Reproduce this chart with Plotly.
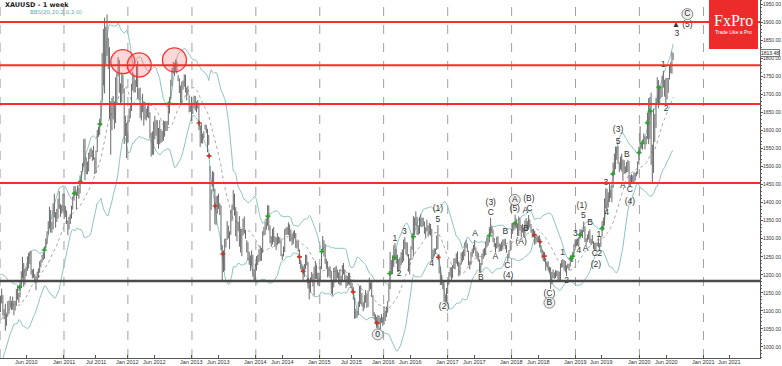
import pandas as pd
import plotly.graph_objects as go

# ---------------- weekly bars: (low, high); first row = first Sunday of the year ----------------
w2009 = [(950,970),(938,962),(932,955),(940,960),(945,998),(990,1012),(995,1024),(990,1019),(983,1011),
         (998,1050),(1040,1070),(1041,1068),(1026,1052),(1040,1096),(1084,1120),(1110,1150),(1137,1195),
         (1167,1227),(1118,1167),(1108,1140),(1075,1113),(1087,1112)]
w2010 = [(1096,1140),(1120,1161),(1086,1143),(1076,1104),(1044,1119),(1058,1092),(1083,1126),(1091,1128),
         (1108,1140),(1101,1127),(1103,1139),(1087,1127),(1100,1127),(1113,1160),(1130,1170),(1122,1149),
         (1137,1180),(1162,1209),(1190,1249),(1166,1232),(1172,1215),(1196,1220),(1210,1250),(1217,1260),
         (1229,1264),(1200,1265),(1189,1214),(1191,1216),(1177,1201),(1157,1195),(1178,1208),(1190,1217),
         (1205,1237),(1220,1241),(1234,1255),(1240,1260),(1244,1278),(1272,1300),(1284,1320),(1311,1348),
         (1328,1388),(1316,1379),(1316,1346),(1325,1398),(1358,1424),(1330,1373),(1346,1382),(1355,1410),
         (1382,1431),(1360,1395),(1369,1392),(1375,1424)]
w2011 = [(1354,1424),(1359,1390),(1340,1378),(1309,1350),(1325,1360),(1340,1368),(1355,1391),(1380,1416),
         (1405,1445),(1420,1445),(1381,1430),(1418,1447),(1410,1440),(1425,1475),(1455,1487),(1485,1509),
         (1500,1575),(1462,1577),(1478,1525),(1478,1513),(1486,1538),(1520,1547),(1526,1552),(1515,1545),
         (1518,1557),(1478,1525),(1482,1544),(1540,1601),(1582,1610),(1587,1632),(1612,1682),(1682,1814),
         (1725,1881),(1702,1912),(1782,1887),(1806,1921),(1770,1856),(1631,1830),(1532,1680),(1600,1690),
         (1630,1695),(1604,1680),(1620,1747),(1675,1760),(1750,1803),(1704,1795),(1671,1730),(1677,1760),
         (1702,1754),(1562,1716),(1584,1640),(1523,1620)]
w2012 = [(1564,1626),(1623,1660),(1634,1672),(1653,1729),(1710,1763),(1704,1755),(1705,1740),(1720,1782),
         (1688,1792),(1683,1716),(1634,1718),(1627,1672),(1650,1701),(1613,1680),(1630,1678),(1627,1660),
         (1636,1668),(1633,1677),(1577,1650),(1527,1593),(1532,1597),(1532,1624),(1575,1640),(1585,1628),
         (1562,1628),(1549,1606),(1561,1628),(1565,1603),(1568,1598),(1571,1627),(1582,1625),(1598,1625),
         (1598,1626),(1615,1676),(1646,1692),(1686,1740),(1723,1773),(1757,1790),(1751,1787),(1764,1796),
         (1757,1790),(1736,1753),(1703,1744),(1675,1724),(1672,1735),(1712,1738),(1720,1755),(1705,1754),
         (1683,1719),(1697,1723),(1650,1697),(1651,1669),(1626,1693)]
w2013 = [(1645,1676),(1661,1696),(1655,1695),(1650,1679),(1660,1684),(1600,1675),(1554,1613),(1564,1619),
         (1563,1590),(1578,1597),(1601,1616),(1592,1615),(1539,1604),(1559,1587),(1321,1501),(1379,1436),
         (1444,1487),(1430,1484),(1339,1438),(1338,1417),(1369,1419),(1382,1424),(1365,1397),(1268,1392),
         (1180,1282),(1207,1267),(1211,1299),(1275,1300),(1296,1348),(1300,1336),(1271,1320),(1310,1380),
         (1348,1394),(1379,1434),(1363,1424),(1306,1387),(1292,1375),(1320,1346),(1277,1362),(1261,1327),
         (1251,1327),(1308,1355),(1313,1361),(1299,1324),(1261,1295),(1240,1290),(1227,1263),(1210,1253),
         (1223,1267),(1194,1255),(1185,1215),(1182,1230)]
w2014 = [(1211,1251),(1226,1255),(1235,1270),(1238,1280),(1238,1274),(1260,1320),(1308,1332),(1310,1345),
         (1324,1355),(1335,1392),(1322,1392),(1287,1336),(1277,1306),(1283,1327),(1290,1332),(1277,1306),
         (1268,1303),(1281,1315),(1286,1305),(1286,1303),(1251,1295),(1240,1257),(1250,1278),(1262,1326),
         (1310,1330),(1310,1332),(1310,1345),(1292,1339),(1292,1325),(1281,1313),(1285,1320),(1300,1323),
         (1273,1315),(1272,1295),(1263,1293),(1229,1270),(1215,1240),(1208,1228),(1183,1223),(1193,1229),
         (1215,1255),(1225,1255),(1161,1235),(1131,1180),(1150,1192),(1180,1207),(1167,1202),(1142,1222),
         (1187,1238),(1187,1226),(1170,1205),(1167,1205)]
w2015 = [(1180,1223),(1215,1268),(1260,1307),(1250,1295),(1230,1285),(1216,1243),(1192,1237),(1195,1220),
         (1190,1223),(1147,1210),(1142,1180),(1164,1219),(1178,1220),(1183,1224),(1190,1214),(1174,1206),
         (1170,1215),(1170,1197),(1182,1226),(1200,1232),(1182,1214),(1162,1198),(1168,1196),(1172,1205),
         (1170,1205),(1162,1188),(1150,1176),(1130,1165),(1077,1136),(1079,1105),(1080,1098),(1087,1125),
         (1110,1168),(1118,1170),(1112,1148),(1098,1124),(1106,1143),(1122,1157),(1108,1145),(1110,1156),
         (1154,1191),(1159,1178),(1138,1180),(1085,1143),(1077,1096),(1062,1090),(1052,1083),(1046,1088),
         (1062,1086),(1046,1080),(1066,1090),(1058,1082)]
w2016 = [(1061,1112),(1071,1100),(1082,1111),(1094,1127),(1125,1175),(1160,1263),(1200,1240),(1201,1253),
         (1221,1281),(1240,1287),(1230,1271),(1208,1255),(1208,1243),(1214,1248),(1226,1262),(1232,1270),
         (1237,1297),(1270,1304),(1255,1290),(1250,1289),(1208,1257),(1200,1245),(1240,1278),(1269,1315),
         (1250,1362),(1310,1358),(1335,1375),(1310,1360),(1310,1337),(1313,1358),(1333,1367),(1331,1357),
         (1334,1358),(1313,1347),(1302,1331),(1320,1352),(1305,1336),(1312,1343),(1308,1340),(1241,1327),
         (1241,1269),(1250,1273),(1257,1272),(1268,1308),(1271,1337),(1203,1256),(1171,1222),(1171,1199),
         (1159,1183),(1124,1180),(1122,1145),(1124,1163)]
w2017 = [(1146,1182),(1172,1207),(1194,1220),(1180,1220),(1190,1226),(1217,1245),(1216,1245),(1230,1259),
         (1223,1264),(1195,1236),(1198,1233),(1227,1261),(1235,1264),(1240,1270),(1251,1289),(1274,1295),
         (1262,1286),(1226,1266),(1214,1237),(1227,1263),(1249,1272),(1259,1282),(1267,1296),(1250,1275),
         (1242,1265),(1236,1260),(1205,1242),(1204,1232),(1226,1258),(1243,1270),(1250,1274),(1255,1291),
         (1275,1306),(1280,1300),(1289,1331),(1310,1357),(1314,1336),(1290,1325),(1276,1301),(1261,1287),
         (1272,1305),(1276,1306),(1263,1287),(1265,1284),(1265,1291),(1270,1297),(1280,1298),(1270,1299),
         (1260,1282),(1236,1258),(1247,1268),(1265,1295),(1299,1326)]
w2018 = [(1313,1343),(1322,1345),(1326,1366),(1329,1355),(1307,1341),(1307,1361),(1322,1356),(1303,1337),
         (1316,1340),(1305,1330),(1302,1350),(1320,1356),(1322,1348),(1325,1365),(1330,1353),(1316,1340),
         (1302,1326),(1304,1326),(1282,1322),(1286,1306),(1290,1308),(1290,1306),(1275,1309),(1261,1282),
         (1245,1270),(1237,1265),(1236,1262),(1211,1246),(1221,1235),(1211,1237),(1205,1222),(1160,1220),
         (1173,1207),(1190,1214),(1188,1206),(1190,1212),(1195,1211),(1180,1210),(1181,1208),(1182,1230),
         (1219,1240),(1220,1243),(1211,1240),(1206,1237),(1196,1226),(1217,1230),(1212,1230),(1222,1250),
         (1235,1251),(1235,1262),(1256,1284),(1275,1298)]
w2019 = [(1279,1298),(1280,1300),(1276,1304),(1298,1326),(1305,1324),(1302,1323),(1318,1347),(1290,1334),
         (1281,1301),(1291,1311),(1297,1320),(1287,1325),(1281,1299),(1286,1310),(1270,1292),(1266,1288),
         (1266,1289),(1279,1289),(1275,1303),(1266,1287),(1277,1306),(1305,1348),(1323,1358),(1336,1411),
         (1383,1439),(1382,1438),(1386,1428),(1401,1453),(1412,1434),(1400,1448),(1440,1510),(1480,1535),
         (1492,1555),(1518,1554),(1507,1557),(1484,1511),(1491,1527),(1486,1535),(1459,1519),(1479,1517),
         (1480,1500),(1483,1512),(1484,1518),(1446,1514),(1445,1475),(1456,1478),(1452,1475),(1455,1484),
         (1460,1482),(1472,1486),(1478,1514),(1505,1554)]
w2020 = [(1535,1611),(1549,1563),(1546,1574),(1561,1591),(1547,1582),(1561,1584),(1576,1649),(1562,1689),
         (1576,1692),(1504,1704),(1451,1560),(1482,1660),(1568,1645),(1606,1690),(1674,1747),(1661,1739),
         (1672,1722),(1688,1722),(1692,1751),(1718,1765),(1693,1740),(1670,1745),(1686,1745),(1704,1745),
         (1741,1779),(1758,1789),(1757,1818),(1795,1814)]
years = {"2009-08-01": w2009, "2010-01-01": w2010, "2011-01-01": w2011, "2012-01-01": w2012,
         "2013-01-01": w2013, "2014-01-01": w2014, "2015-01-01": w2015, "2016-01-01": w2016,
         "2017-01-01": w2017, "2018-01-01": w2018, "2019-01-01": w2019, "2020-01-01": w2020}

# ---------------- levels, signals, wave labels ----------------
red_levels = [1900, 1780, 1673, 1454]
black_level = 1182
last_price = 1813.48

buy_dates = ["2010-04-23","2010-09-10","2011-03-01","2011-04-04","2011-07-25","2012-08-24","2014-03-11",
             "2015-01-12","2016-02-04","2016-03-03","2016-06-19","2017-08-27","2018-01-21","2018-12-07",
             "2018-12-16","2019-01-27","2019-06-02","2019-08-02","2019-12-30","2020-01-17","2020-02-15",
             "2020-03-02","2020-04-21"]
buy_prices = [1165,1268,1425,1457,1617,1675,1362,1264,1203,1247,1305,1308,1342,1245,1251,1310,1328,1479,
              1538,1564,1621,1653,1719]
sell_dates = ["2013-02-11","2013-04-09","2013-05-13","2013-06-26","2014-09-07","2014-09-28","2014-10-27",
              "2015-07-11","2015-11-24","2016-11-08","2018-05-11","2018-06-12","2018-07-07"]
sell_prices = [1620,1529,1390,1257,1249,1209,1183,1152,1066,1248,1310,1291,1251]

highlight_dates = ["2011-12-03", "2012-03-06", "2012-09-23"]
highlight_prices = [1790, 1781, 1795]

wave_dates = ["2016-03-05","2016-03-29","2016-04-28","2016-11-06","2016-11-06","2016-10-01","2016-12-11",
              "2017-06-07","2017-07-10","2017-09-04","2017-09-04","2017-09-30","2017-11-26","2017-12-08",
              "2017-12-12","2018-01-19","2018-02-24","2018-03-24","2018-04-10","2018-03-20","2018-04-13",
              "2018-08-05","2018-10-20","2018-11-12","2018-12-31","2019-02-06","2019-02-15","2019-01-21",
              "2019-03-25","2019-02-28","2019-05-14","2019-04-22","2019-05-19","2019-04-28","2019-06-24",
              "2019-06-28","2019-09-01","2019-09-01","2019-10-21","2019-09-28","2019-11-08","2019-11-08",
              "2020-05-17","2020-06-02","2020-08-02","2020-07-28","2020-10-01"]
wave_prices = [1298,1201,1318,1381,1352,1229,1111,1312,1192,1399,1370,1249,1317,1224,1196,1381,1290,1326,
               1409,1376,1382,1147,1261,1183,1312,1390,1362,1266,1343,1271,1310,1257,1257,1226,1454,1370,
               1600,1569,1533,1445,1434,1402,1781,1659,1866,1892,1892]
wave_texts = ["1","2","3","(1)","5","4","(2)","A","B","(3)","C","A","B","C","(4)","(5)","(A)","B","(B)",
              "A","C","(C)","1","2","3","(1)","5","4","B","A","1","C","2","(2)","3","4","(3)","5","B","A",
              "C","(4)","1","2","3","▲","(5)"]
circled_dates = ["2015-11-28", "2018-01-19", "2018-08-05", "2020-10-01"]
circled_prices = [1034, 1407, 1122, 1922]
circled_texts = ["0", "A", "B", "C"]

x_tick_dates = ["2010-06-01","2011-01-01","2011-07-01","2012-01-01","2012-06-01","2013-01-01","2013-06-01",
                "2014-01-01","2014-06-01","2015-01-01","2015-07-01","2016-01-01","2016-06-01","2017-01-01",
                "2017-06-01","2018-01-01","2018-06-01","2019-01-01","2019-06-01","2020-01-01","2020-06-01",
                "2021-01-01","2021-06-01"]
x_tick_text = [pd.Timestamp(d).strftime("%b %Y") for d in x_tick_dates]
grid_years = list(range(2010, 2022))
y_ticks = list(range(1000, 1951, 50))

# ---------------- build series ----------------
dates, lows, highs = [], [], []
for start, rows in years.items():
    ds = pd.date_range(start, periods=len(rows), freq="W-SUN")
    for d, (lo, hi) in zip(ds, rows):
        dates.append(d); lows.append(lo); highs.append(hi)
df = pd.DataFrame({"date": dates, "lo": lows, "hi": highs})
mid = (df.lo + df.hi) / 2
ma = mid.rolling(20).mean()
sd = mid.rolling(20).std(ddof=0)
df["ma"], df["up"], df["dn"] = ma, ma + 2 * sd, ma - 2 * sd

bx, by = [], []
for d, lo, hi in zip(df.date, df.lo, df.hi):
    bx += [d, d, None]; by += [lo, hi, None]

fig = go.Figure()
band_col = "#8fc3c3"
fig.add_trace(go.Scatter(x=df.date, y=df.up, mode="lines", line=dict(color=band_col, width=1), hoverinfo="skip"))
fig.add_trace(go.Scatter(x=df.date, y=df.dn, mode="lines", line=dict(color=band_col, width=1), hoverinfo="skip"))
fig.add_trace(go.Scatter(x=df.date, y=df.ma, mode="lines", line=dict(color="#a8a8a8", width=1, dash="dot"), hoverinfo="skip"))
fig.add_trace(go.Scatter(x=bx, y=by, mode="lines", line=dict(color="#6a6a6a", width=1), connectgaps=False))
fig.add_trace(go.Scatter(x=buy_dates, y=buy_prices, mode="markers",
                         marker=dict(symbol="cross", size=4, color="#2ca02c")))
fig.add_trace(go.Scatter(x=sell_dates, y=sell_prices, mode="markers",
                         marker=dict(symbol="cross", size=4, color="#c0392b")))
fig.add_trace(go.Scatter(x=highlight_dates, y=highlight_prices, mode="markers",
                         marker=dict(size=24, color="rgba(255,110,110,0.28)", line=dict(color="#ff3030", width=1.3))))
fig.add_trace(go.Scatter(x=circled_dates, y=circled_prices, mode="markers+text", text=circled_texts,
                         textposition="middle center", textfont=dict(size=8.5, color="#333", family="Liberation Sans"),
                         marker=dict(size=11, color="#ededed", line=dict(color="#8a8a8a", width=1))))
fig.add_trace(go.Scatter(x=wave_dates, y=wave_prices, mode="text", text=wave_texts,
                         textposition="middle center", textfont=dict(size=8.5, color="#333", family="Liberation Sans")))

shapes = []
for yr in grid_years:
    shapes.append(dict(type="line", xref="x", yref="paper", x0=f"{yr}-01-01", x1=f"{yr}-01-01", y0=0, y1=1,
                       line=dict(color="#a0a0a0", width=1, dash="dash"), layer="below"))
for lv in red_levels:
    shapes.append(dict(type="line", xref="paper", yref="y", x0=0, x1=1, y0=lv, y1=lv,
                       line=dict(color="#ff2a2a", width=2)))
shapes.append(dict(type="line", xref="paper", yref="y", x0=0, x1=1, y0=black_level, y1=black_level,
                   line=dict(color="#4a4a4a", width=2.5)))
shapes.append(dict(type="rect", xref="paper", yref="paper", x0=709/760, x1=758/760, y0=1-49/358, y1=1,
                   fillcolor="#ee2b2b", line=dict(width=0)))

annotations = [
    dict(xref="paper", yref="paper", x=0.004, y=1-5/358, xanchor="left", yanchor="middle", showarrow=False,
         text="<b>XAUUSD - 1 week</b>", font=dict(size=6.5, color="#222", family="DejaVu Sans")),
    dict(xref="paper", yref="paper", x=28/760, y=1-12/358, xanchor="left", yanchor="middle", showarrow=False,
         text="BBS(20,20,2.0,2.0)", font=dict(size=5.5, color="#5aa5a5", family="DejaVu Sans")),
    dict(xref="paper", yref="paper", x=733.5/760, y=1-21/358, xanchor="center", yanchor="middle", showarrow=False,
         text="FxPro", font=dict(size=16, color="white", family="Liberation Serif")),
    dict(xref="paper", yref="paper", x=733.5/760, y=1-32/358, xanchor="center", yanchor="middle", showarrow=False,
         text="Trade Like a Pro", font=dict(size=5, color="white", family="Liberation Sans")),
]
for d, t in zip(x_tick_dates, x_tick_text):
    annotations.append(dict(xref="x", yref="paper", x=d, y=-4.3/358, xanchor="center", yanchor="middle",
                            showarrow=False, text=t, font=dict(size=5.5, color="#333", family="Liberation Sans")))
for v in y_ticks:
    annotations.append(dict(xref="paper", yref="y", x=1, xshift=1, y=v, xanchor="left", yanchor="middle",
                            showarrow=False, text=f"{v:.2f}", font=dict(size=5, color="#333", family="Liberation Sans")))
annotations.append(dict(xref="paper", yref="y", x=1, y=last_price, xanchor="left", yanchor="middle", showarrow=False,
                        xshift=0, text="1813.48", font=dict(size=5, color="#222", family="Liberation Sans"),
                        bgcolor="white", bordercolor="#777", borderwidth=1, borderpad=0))

fig.update_layout(
    width=782, height=366, margin=dict(l=0, r=22, t=0, b=8),
    paper_bgcolor="white", plot_bgcolor="white", showlegend=False,
    shapes=shapes, annotations=annotations,
    xaxis=dict(type="date", range=["2009-12-31 12:00", "2021-11-20"], showgrid=False, zeroline=False,
               tickvals=x_tick_dates, showticklabels=False, ticks="inside", ticklen=3, tickcolor="#555",
               showline=True, linecolor="#555", linewidth=1, automargin=False),
    yaxis=dict(side="right", range=[968.6, 1961.1], showgrid=False, zeroline=False,
               tickvals=y_ticks, showticklabels=False, ticks="outside", ticklen=2, tickcolor="#555",
               minor=dict(dtick=10, ticks="outside", ticklen=1, tickcolor="#777"),
               showline=True, linecolor="#555", linewidth=1, automargin=False),
)
fig.write_html("out.html", config={"displayModeBar": False, "staticPlot": True},
               post_script="document.body.style.margin='0px';document.body.style.overflow='hidden';")
